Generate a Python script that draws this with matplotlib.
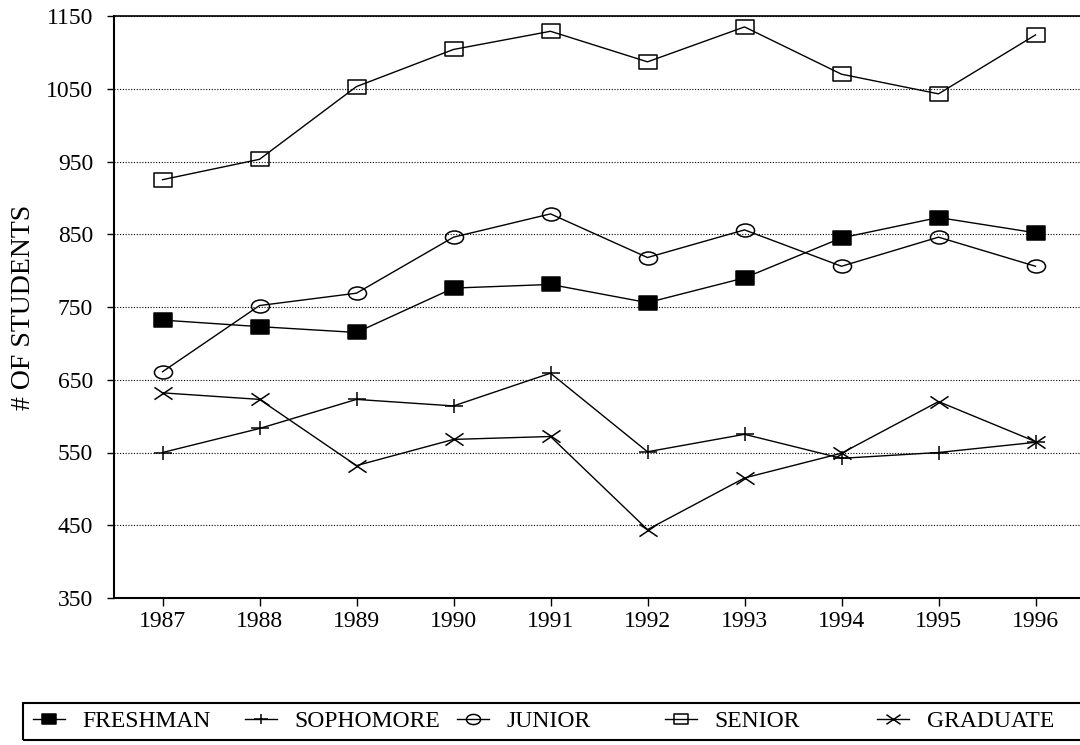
import matplotlib
matplotlib.use("Agg")
import matplotlib.pyplot as plt
from matplotlib.path import Path
from matplotlib.patches import Rectangle
from matplotlib.transforms import Affine2D

# enrolment by class
years = [1987, 1988, 1989, 1990, 1991, 1992, 1993, 1994, 1995, 1996]
freshman = [732, 723, 715, 776, 781, 756, 790, 845, 873, 852]
sophomore = [550, 583, 623, 614, 659, 551, 575, 542, 550, 564]
junior = [661, 752, 769, 846, 878, 818, 856, 806, 846, 806]
senior = [925, 953, 1053, 1104, 1129, 1087, 1135, 1070, 1043, 1124]
graduate = [632, 623, 532, 568, 572, 444, 515, 549, 620, 565]
y_ticks = [350, 450, 550, 650, 750, 850, 950, 1050, 1150]

plt.rcParams["font.family"] = ["Liberation Serif", "DejaVu Serif"]

W, H = 1080, 745

# markers in the scan are a bit wider than tall
box = Path([(-1, -0.75), (1, -0.75), (1, 0.75), (-1, 0.75), (-1, -0.75)],
           [Path.MOVETO, Path.LINETO, Path.LINETO, Path.LINETO, Path.CLOSEPOLY])
ellipse = Path.unit_circle().transformed(Affine2D().scale(1, 0.72))
plus = Path([(-1, 0), (1, 0), (0, -0.75), (0, 0.75)],
            [Path.MOVETO, Path.LINETO, Path.MOVETO, Path.LINETO])
cross = Path([(-1, -0.68), (1, 0.68), (-1, 0.68), (1, -0.68)],
             [Path.MOVETO, Path.LINETO, Path.MOVETO, Path.LINETO])

fig = plt.figure(figsize=(W / 100, H / 100), dpi=100)
ax = fig.add_axes([114 / W, 1 - 598 / H, 970 / W, 582 / H])

series = [
    ("FRESHMAN", freshman, box, "black", 13.5),
    ("SOPHOMORE", sophomore, plus, "none", 13.5),
    ("JUNIOR", junior, ellipse, "none", 13),
    ("SENIOR", senior, box, "none", 13.5),
    ("GRADUATE", graduate, cross, "none", 13),
]

lines = []
for label, vals, mk, fc, ms in series:
    (ln,) = ax.plot(years, vals, color="black", lw=1.0, marker=mk, ms=ms,
                    mfc=fc, mec="black", mew=1.1, label=label, zorder=3)
    lines.append(ln)

ax.set_xlim(1986.5, 1996.5)
ax.set_ylim(350, 1150)
ax.set_xticks(years)
ax.set_yticks(y_ticks)
ax.tick_params(axis="x", direction="out", length=6, width=1, pad=3.5, labelsize=17)
ax.tick_params(axis="y", direction="out", length=5, width=1, pad=10, labelsize=17)
ax.grid(axis="y", color="black", lw=0.8, linestyle=(0, (1, 1.5)))
ax.set_axisbelow(True)
for side in ["left", "bottom"]:
    ax.spines[side].set_linewidth(1.5)
ax.spines["top"].set_linewidth(1.2)
ax.set_ylabel("# OF STUDENTS", fontsize=20, labelpad=7)

# legend frame running off the right edge, one entry per legend
fig.add_artist(Rectangle((23 / W, 1 - 740 / H), (1095 - 23) / W, 37 / H,
                         transform=fig.transFigure, fill=False, lw=1.5,
                         edgecolor="black"))
entry_x = [33, 245, 457, 665, 877]
for ln, x0 in zip(lines, entry_x):
    fig.legend(handles=[ln], loc="center left", bbox_to_anchor=(x0 / W, 1 - 721 / H),
               frameon=False, borderpad=0, borderaxespad=0, fontsize=17,
               handlelength=1.35, handletextpad=0.76, markerscale=0.78, numpoints=1)

fig.savefig("out.png", dpi=100)
